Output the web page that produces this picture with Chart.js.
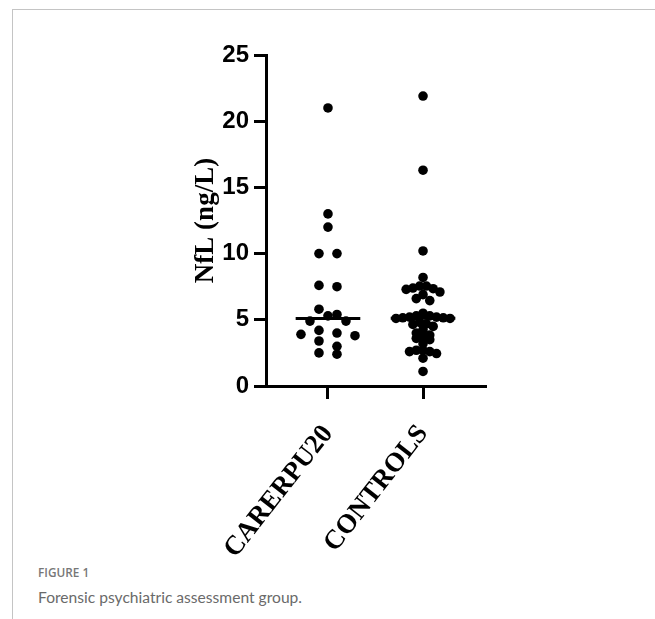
<!DOCTYPE html>
<html>
<head>
<meta charset="utf-8">
<script src="https://cdn.jsdelivr.net/npm/chart.js@4.4.1/dist/chart.umd.min.js"></script>
<style>
  html, body { margin: 0; padding: 0; background: #fff; }
  body { width: 655px; height: 619px; position: relative; overflow: hidden; }
  #frame { position: absolute; left: 12px; top: 9px; width: 700px; height: 700px;
           border-left: 1px solid #c4c4c4; border-top: 1px solid #c4c4c4; }
  #c { position: absolute; left: 0; top: 0; }
  #fig { position: absolute; left: 38px; top: 564px; font-family: "Open Sans", sans-serif;
         font-size: 11.8px; font-weight: 600; color: #777; }
  #cap { position: absolute; left: 38px; top: 588px; font-family: "Lato", sans-serif;
         font-size: 15.6px; font-weight: 400; color: #6a6a6a; }
</style>
</head>
<body>
<div id="frame"></div>
<canvas id="c" width="655" height="560"></canvas>
<div id="fig">FIGURE 1</div>
<div id="cap">Forensic psychiatric assessment group.</div>
<script>
// ---- data ----
const categories = ["CARERPU20", "CONTROLS"];
const carerpuValues = [21, 13, 12, 10, 10, 7.6, 7.5, 5.8, 5.3, 5.4, 4.9, 4.9,
  4.2, 4.0, 3.9, 3.8, 3.4, 3.0, 2.4, 2.5];
const controlValues = [21.9, 16.3, 10.2, 8.2, 7.55, 7.55, 7.35, 7.3, 7.4, 7.1,
  6.9, 6.6, 6.45, 5.1, 5.15, 5.2, 5.3, 5.5, 5.3, 5.2, 5.15, 5.1, 4.7, 4.8,
  4.65, 4.5, 4.25, 4.0, 3.85, 3.75, 3.6, 3.5, 3.2, 2.7, 2.45, 2.6, 2.6, 2.7,
  2.1, 1.1];
const yTicks = [0, 5, 10, 15, 20, 25];
const yTitle = "NfL (ng/L)";

const groups = [carerpuValues, controlValues];

function median(a) {
  const s = a.slice().sort((p, q) => p - q);
  const n = s.length;
  return n % 2 ? s[(n - 1) / 2] : (s[n / 2 - 1] + s[n / 2]) / 2;
}

const DOT_R = 4.8;
const MED_HALF = 0.34;

const datasets = [];
groups.forEach((vals, gi) => {
  datasets.push({
    type: 'scatter',
    label: categories[gi],
    data: vals.map(v => ({ x: gi + 1, y: v })),
    pointRadius: DOT_R,
    pointHoverRadius: DOT_R,
    backgroundColor: '#000',
    borderWidth: 0,
    order: 2
  });
});
groups.forEach((vals, gi) => {
  const m = median(vals);
  datasets.push({
    type: 'line',
    label: categories[gi] + ' median',
    data: [{ x: gi + 1 - MED_HALF, y: m }, { x: gi + 1 + MED_HALF, y: m }],
    borderColor: '#000',
    borderWidth: 3,
    pointRadius: 0,
    fill: false,
    order: 1
  });
});

const axisGrid = { drawOnChartArea: false, drawTicks: true, color: '#000', lineWidth: 3 };

const chart = new Chart(document.getElementById('c'), {
  type: 'scatter',
  data: { datasets },
  options: {
    responsive: false,
    animation: false,
    events: [],
    layout: { padding: { left: 190, top: 55, right: 170, bottom: 0 } },
    plugins: { legend: { display: false }, tooltip: { enabled: false } },
    scales: {
      x: {
        type: 'linear',
        min: 0.348, max: 2.652,
        afterBuildTicks: s => { s.ticks = categories.map((c, i) => ({ value: i + 1 })); },
        ticks: {
          callback: v => categories[Math.round(v) - 1] || '',
          font: { family: 'Liberation Serif', weight: 'bold', size: 27 },
          color: '#000', minRotation: 52, maxRotation: 52, autoSkip: false, padding: 20
        },
        grid: Object.assign({}, axisGrid, { tickLength: 13 }),
        border: { color: '#000', width: 3 },
        afterFit: s => { s.height = 174; }
      },
      y: {
        type: 'linear',
        min: 0, max: 25,
        afterBuildTicks: s => { s.ticks = yTicks.map(v => ({ value: v })); },
        ticks: {
          font: { family: 'Liberation Sans', weight: 'bold', size: 24 },
          color: '#000', padding: 5
        },
        grid: Object.assign({}, axisGrid, { tickLength: 12 }),
        border: { color: '#000', width: 3 },
        title: {
          display: true, text: yTitle, color: '#000',
          font: { family: 'Liberation Serif', weight: 'bold', size: 27 },
          padding: { top: 0, bottom: 0 }
        },
        afterFit: s => { s.width = 76; }
      }
    }
  }
});

// Row-based scatter layout (like a column scatter plot): points whose
// values fall within one row height share a row and are spread evenly
// about the column centre.
function rowOffsets(vals, pxPerUnit, rowH, maxStep, halfSpan) {
  const order = vals.map((v, i) => i).sort((a, b) => vals[b] - vals[a]);
  const rows = [];
  let cur = null;
  for (const i of order) {
    if (cur && (vals[cur.start] - vals[i]) * pxPerUnit < rowH) cur.items.push(i);
    else { cur = { start: i, items: [i] }; rows.push(cur); }
  }
  const maxN = Math.max(...rows.map(r => r.items.length));
  const step = maxN > 1 ? Math.min(maxStep, (2 * halfSpan) / (maxN - 1)) : maxStep;
  const offs = new Array(vals.length).fill(0);
  rows.forEach(r => {
    const n = r.items.length;
    const slots = [];
    for (let j = 0; j < n; j++) slots.push((j - (n - 1) / 2) * step);
    slots.sort((a, b) => Math.abs(a) - Math.abs(b) || a - b);
    r.items.forEach((idx, k) => { offs[idx] = slots[k]; });
  });
  return offs;
}

const xs = chart.scales.x, ys = chart.scales.y;
const pxPerX = (xs.right - xs.left) / (xs.max - xs.min);
const pxPerY = (ys.bottom - ys.top) / (ys.max - ys.min);
groups.forEach((vals, gi) => {
  const offs = rowOffsets(vals, pxPerY, 6, 18, 27);
  chart.data.datasets[gi].data = vals.map((v, i) => ({ x: gi + 1 + offs[i] / pxPerX, y: v }));
});
chart.update('none');
</script>
</body>
</html>
